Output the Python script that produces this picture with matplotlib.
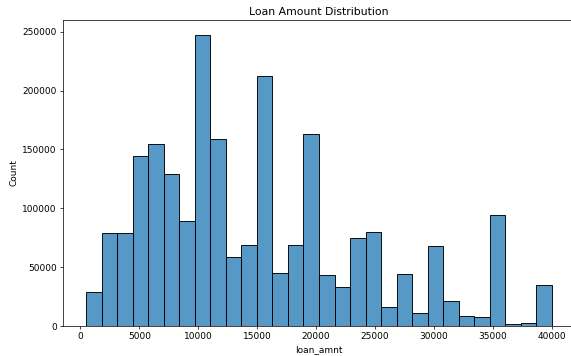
import numpy as np
import pandas as pd
import matplotlib
matplotlib.use('Agg')
import matplotlib.pyplot as plt
import seaborn as sns

# histogram of loan_amnt, 30 bins from 500 to 40000
loan_min = 500
loan_max = 40000
counts = [29100, 79300, 79300, 144400, 154600, 128900, 89500, 247500, 159100, 58900,
          69100, 212400, 44700, 69100, 163000, 43300, 32900, 74800, 79900, 16100,
          44500, 10800, 67700, 21200, 8200, 7400, 94000, 1700, 2300, 34800]

edges = np.linspace(loan_min, loan_max, len(counts) + 1)
df = pd.DataFrame({'loan_amnt': (edges[:-1] + edges[1:]) / 2, 'n': counts})

dpi = 65
fig = plt.figure(figsize=(571 / dpi, 356 / dpi), dpi=dpi)
ax = fig.add_axes([63 / 571, 30 / 356, 512 / 571, 306 / 356])
sns.histplot(data=df, x='loan_amnt', weights='n', bins=len(counts),
             binrange=(loan_min, loan_max), ax=ax)
ax.set_title('Loan Amount Distribution')
ax.set_xlabel('loan_amnt')
ax.set_ylabel('Count')

fig.savefig('out.png', dpi=dpi)
